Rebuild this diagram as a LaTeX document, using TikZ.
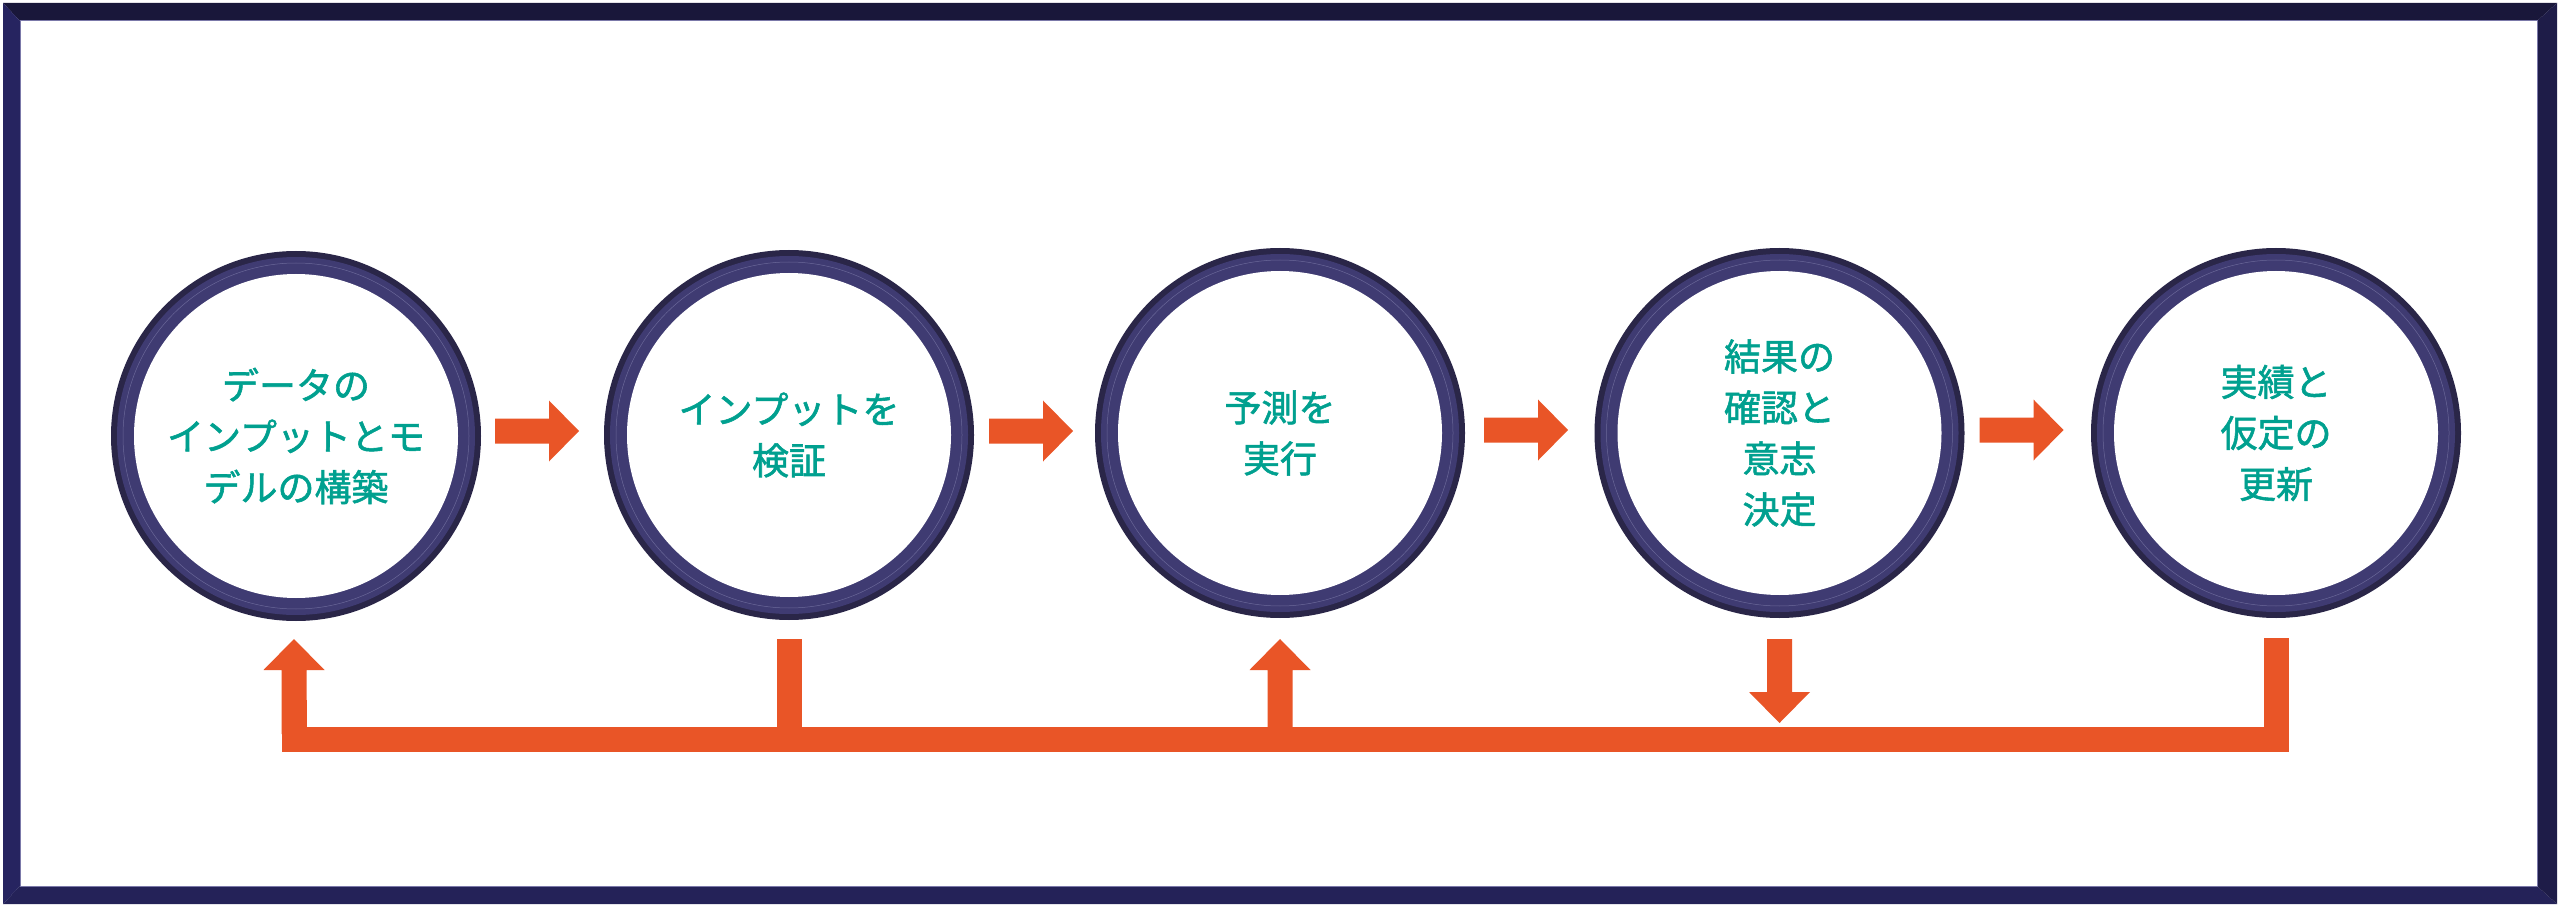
\documentclass[tikz,border=0pt]{standalone}
\usepackage{fontspec}
\newfontfamily\jp[FakeBold=1.5]{Noto Sans CJK JP}
\definecolor{arr}{HTML}{E95527}
\definecolor{ringedge}{HTML}{2A2648}
\definecolor{ringbody}{HTML}{3F3B72}
\definecolor{ringline}{HTML}{A09EC8}
\definecolor{txt}{HTML}{00A08F}
\definecolor{frtop}{HTML}{19173A}
\definecolor{frleft}{HTML}{262460}
\definecolor{frbot}{HTML}{242258}
\definecolor{frright}{HTML}{1E1C48}
\tikzset{
  ring/.style={circle, minimum size=370pt, inner sep=0pt, fill=ringedge,
    align=center, text=txt, font=\jp\fontsize{37pt}{51pt}\selectfont,
    path picture={
      \fill[ringbody] (path picture bounding box.center) circle (179pt);
      \draw[ringline, line width=0.5pt, opacity=0.45] (path picture bounding box.center) circle (173pt);
      \fill[white] (path picture bounding box.center) circle (162pt);
    }},
  bar/.style={draw=arr, line width=25pt, line join=miter},
  rarr/.pic={\fill[arr] (0,-12.5) -- (54,-12.5) -- (54,-30.5) -- (84,0) -- (54,30.5) -- (54,12.5) -- (0,12.5) -- cycle;},
  uarr/.pic={\fill[arr] (0,0) -- (30.5,31) -- (12.5,31) -- (12.5,95) -- (-12.5,95) -- (-12.5,31) -- (-30.5,31) -- cycle;},
  darr/.pic={\fill[arr] (-12.5,0) -- (12.5,0) -- (12.5,53) -- (30.5,53) -- (0,84) -- (-30.5,53) -- (-12.5,53) -- cycle;}
}
\begin{document}
\begin{tikzpicture}[x=1pt,y=-1pt]
\useasboundingbox (0,0) rectangle (2560,909);
\fill[white] (0,0) rectangle (2560,909);
% frame
\fill[frtop] (3,3) -- (2557,3) -- (2537,21) -- (20,21) -- cycle;
\fill[frleft] (3,3) -- (20,21) -- (20,886) -- (3,904) -- cycle;
\fill[frbot] (3,904) -- (20,886) -- (2537,886) -- (2557,904) -- cycle;
\fill[frright] (2557,3) -- (2557,904) -- (2537,886) -- (2537,21) -- cycle;
\draw[ringline!70!frleft, line width=1pt] (20,21) rectangle (2537,886);
% circles
\node[ring] (c1) at (296,436) {データの\\インプットとモ\\デルの構築};
\node[ring] (c2) at (789,435) {インプットを\\検証};
\node[ring] (c3) at (1280,433) {予測を\\実行};
\node[ring] (c4) at (1779.5,433) {結果の\\確認と\\意志\\決定};
\node[ring] (c5) at (2276,433) {実績と\\仮定の\\更新};
% forward arrows
\pic at ([shift={(199,-5)}]c1.center) {rarr};
\pic at ([shift={(200,-4)}]c2.center) {rarr};
\pic at ([shift={(204,-3)}]c3.center) {rarr};
\pic at ([shift={(200,-3)}]c4.center) {rarr};
% feedback loop
\coordinate (tipY) at (0,639);
\coordinate (barY) at (0,739.5);
\draw[bar] ([xshift=-2]c1.center |- 0,700) -- ([xshift=-2]c1.center |- barY) -- (c5.center |- barY) -- (c5.center |- 0,638);
\pic at ([xshift=-2]c1.center |- tipY) {uarr};
\draw[bar] (c2.center |- tipY) -- (c2.center |- barY);
\pic at (c3.center |- tipY) {uarr};
\pic at (c4.center |- tipY) {darr};
\end{tikzpicture}
\end{document}
